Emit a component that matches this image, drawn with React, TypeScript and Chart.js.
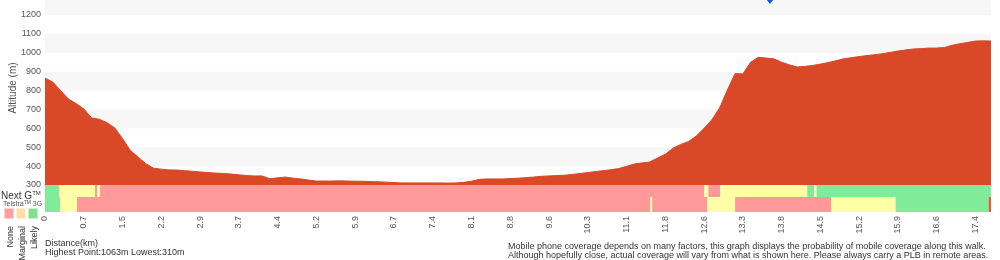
import React, { useEffect, useRef } from "react";
import { Chart, registerables } from "chart.js";

Chart.register(...registerables);

// ---------- data ----------
const tickLabels = [
  "0", "0.7", "1.5", "2.2", "2.9", "3.7", "4.4", "5.2", "5.9", "6.7", "7.4", "8.1",
  "8.8", "9.6", "10.3", "11.1", "11.8", "12.6", "13.3", "13.8", "14.5", "15.2", "15.9",
  "16.6", "17.4",
];
const POINTS_PER_TICK = 5;

// altitude (m) sampled along the walk, one value per profile point
const altitude = [
  866, 845, 800, 756, 731, 703, 655, 648, 630, 602,
  546, 483, 448, 413, 389, 384, 380, 379, 376, 373,
  369, 366, 363, 361, 358, 354, 350, 348, 348, 333,
  338, 342, 336, 332, 326, 321, 321, 321, 322, 321,
  320, 320, 318, 317, 315, 313, 311, 311, 311, 311,
  311, 311, 310, 311, 314, 320, 330, 332, 332, 332,
  334, 336, 339, 342, 346, 348, 350, 352, 356, 361,
  366, 371, 376, 381, 387, 399, 411, 417, 422, 443,
  463, 495, 515, 530, 560, 600, 645, 708, 803, 890,
  888, 950, 976, 972, 968, 950, 936, 925, 928, 933,
  940, 948, 958, 968, 974, 980, 985, 990, 995, 1002,
  1009, 1015, 1020, 1022, 1025, 1025, 1028, 1040, 1048, 1055,
  1062, 1063, 1062,
];
const pointLabels = altitude.map((_, i) => String(i));

const yTickValues = [300, 400, 500, 600, 700, 800, 900, 1000, 1100, 1200];
const shadedBands: [number, number][] = [
  [400, 500], [600, 700], [800, 900], [1000, 1100], [1200, 1300],
];

// coverage segments: [startPoint, endPoint, level]
type Seg = [number, number, string];
const nextGCoverage: Seg[] = [
  [0, 1.81, "likely"],
  [1.81, 6.45, "marginal"],
  [6.45, 6.75, "none"],
  [6.75, 7.1, "marginal"],
  [7.1, 85.03, "none"],
  [85.03, 85.55, "marginal"],
  [85.55, 87.1, "none"],
  [87.1, 98.3, "marginal"],
  [98.3, 99.2, "likely"],
  [99.2, 99.5, "marginal"],
  [99.5, 122, "likely"],
];
const telstra3GCoverage: Seg[] = [
  [0, 1.94, "likely"],
  [1.94, 4.13, "marginal"],
  [4.13, 78.06, "none"],
  [78.06, 78.3, "marginal"],
  [78.3, 85.4, "none"],
  [85.4, 89.0, "marginal"],
  [89.0, 101.4, "none"],
  [101.4, 109.7, "marginal"],
  [109.7, 121.7, "likely"],
  [121.7, 122, "unknown"],
];

const markerPoint = [93.5];
const markerAltitude = [1285];

const highestPoint = 1063;
const lowestPoint = 310;

// ---------- styles ----------
const FONT = '"Liberation Sans", Arial, Helvetica, sans-serif';
const ELEV_COLOR = "#d94827";
const coverageColors: Record<string, string> = {
  none: "#ff9999",
  marginal: "#ffffa6",
  likely: "#80eb9a",
  unknown: "#e0603a",
};

const backgroundPlugin = {
  id: "shadedBands",
  beforeDatasetsDraw(chart: any) {
    const { ctx, chartArea, scales } = chart;
    const y = scales.y;
    ctx.save();
    ctx.beginPath();
    ctx.rect(chartArea.left, chartArea.top, chartArea.right - chartArea.left, chartArea.bottom - chartArea.top);
    ctx.clip();
    ctx.fillStyle = "#f7f7f7";
    for (const [lo, hi] of shadedBands) {
      const t = y.getPixelForValue(hi);
      const b = y.getPixelForValue(lo);
      ctx.fillRect(chartArea.left, t, chartArea.right - chartArea.left, b - t);
    }
    ctx.restore();
  },
};

const coveragePlugin = {
  id: "coverage",
  afterDraw(chart: any) {
    const { ctx, chartArea, scales } = chart;
    const x = scales.x;
    const y = scales.y;
    const rows: [Seg[], number, number][] = [
      [nextGCoverage, 0, 12],
      [telstra3GCoverage, 12, 27],
    ];
    ctx.save();
    for (const [segs, t, b] of rows) {
      for (const [s, e, lvl] of segs) {
        const x0 = x.getPixelForValue(s);
        const x1 = x.getPixelForValue(e);
        ctx.fillStyle = coverageColors[lvl];
        ctx.fillRect(x0, chartArea.bottom + t, x1 - x0, b - t);
      }
    }
    // position marker
    ctx.fillStyle = "#0b5ed7";
    markerPoint.forEach((p, i) => {
      const mx = x.getPixelForValue(p);
      const my = y.getPixelForValue(markerAltitude[i]);
      ctx.beginPath();
      ctx.moveTo(mx, my - 5);
      ctx.lineTo(mx + 4, my);
      ctx.lineTo(mx, my + 5);
      ctx.lineTo(mx - 4, my);
      ctx.closePath();
      ctx.fill();
    });
    ctx.restore();
  },
};

const textColor = "#333";

export default function App() {
  const ref = useRef<HTMLCanvasElement | null>(null);

  useEffect(() => {
    if (!ref.current) return;
    const chart = new Chart(ref.current, {
      type: "line",
      data: {
        labels: pointLabels,
        datasets: [
          {
            data: altitude,
            fill: "start",
            backgroundColor: ELEV_COLOR,
            borderColor: ELEV_COLOR,
            borderWidth: 1,
            pointRadius: 0,
            tension: 0,
          },
        ],
      },
      options: {
        animation: false,
        responsive: false,
        layout: { padding: { left: 0, right: 9, top: 0, bottom: 0 } },
        plugins: { legend: { display: false }, tooltip: { enabled: false } },
        scales: {
          x: {
            type: "category",
            offset: false,
            grid: { display: false, drawTicks: false },
            border: { display: false },
            ticks: {
              autoSkip: false,
              minRotation: 90,
              maxRotation: 90,
              padding: 31,
              color: "#555",
              font: { family: FONT, size: 9 },
              callback: (_v: any, i: number) =>
                i % POINTS_PER_TICK === 0 ? tickLabels[i / POINTS_PER_TICK] ?? "" : "",
            },
            afterFit: (s: any) => {
              s.height = 75;
              s.paddingLeft = 0;
              s.paddingRight = 0;
            },
          },
          y: {
            min: 300,
            max: 1327,
            grid: { display: false, drawTicks: false },
            border: { display: false },
            ticks: {
              padding: 4,
              color: "#555",
              font: { family: FONT, size: 9 },
              callback: (v: any) => String(v),
            },
            afterBuildTicks: (s: any) => {
              s.ticks = yTickValues.map((v) => ({ value: v }));
            },
            afterFit: (s: any) => {
              s.width = 45;
              s.paddingTop = 0;
              s.paddingBottom = 0;
            },
            title: {
              display: true,
              text: "Altitude (m)",
              color: "#555",
              font: { family: FONT, size: 10 },
              padding: { top: 7, bottom: 0 },
            },
          },
        },
      },
      plugins: [backgroundPlugin, coveragePlugin],
    } as any);
    return () => chart.destroy();
  }, []);

  const abs = (o: React.CSSProperties): React.CSSProperties => ({
    position: "absolute",
    whiteSpace: "nowrap",
    fontFamily: FONT,
    ...o,
  });

  const legendSquares = [
    { left: 4, bg: "#ff9f9f", bd: "#ffd0d0", label: "None" },
    { left: 16, bg: "#ffe0a8", bd: "#fff0d4", label: "Marginal" },
    { left: 28, bg: "#7fe08f", bd: "#c4f2cc", label: "Likely" },
  ];

  return (
    <div style={{ position: "absolute", left: 0, top: 0, width: 1000, height: 260, overflow: "hidden", background: "#fff" }}>
      <canvas ref={ref} width={1000} height={269} style={{ position: "absolute", left: 0, top: -9, display: "block" }} />
      <div style={abs({ left: 1, top: 188, fontSize: 10, lineHeight: "10px", color: textColor })}>
        Next G<span style={{ fontSize: 6, verticalAlign: "4px" }}>TM</span>
      </div>
      <div style={abs({ left: 3, top: 199, fontSize: 7, lineHeight: "7px", color: "#555" })}>
        Telstra<span style={{ fontSize: 5, verticalAlign: "2px" }}>TM</span> 3G
      </div>
      {legendSquares.map((s) => (
        <React.Fragment key={s.label}>
          <div
            style={{
              position: "absolute",
              left: s.left,
              top: 208,
              width: 10,
              height: 11,
              boxSizing: "border-box",
              background: s.bg,
              border: `1px solid ${s.bd}`,
            }}
          />
          <div
            style={abs({
              left: s.left + 1,
              top: 226,
              width: 10,
              fontSize: 9,
              lineHeight: "10px",
              color: textColor,
              writingMode: "vertical-rl",
              transform: "rotate(180deg)",
            })}
          >
            {s.label}
          </div>
        </React.Fragment>
      ))}
      <div style={abs({ left: 45, top: 239, fontSize: 9, lineHeight: "9px", color: textColor })}>
        <div>Distance(km)</div>
        <div>
          Highest Point:{highestPoint}m Lowest:{lowestPoint}m
        </div>
      </div>
      <div style={abs({ left: 508, top: 242, fontSize: 9, lineHeight: "9px", color: textColor })}>
        <div>Mobile phone coverage depends on many factors, this graph displays the probability of mobile coverage along this walk.</div>
        <div>Although hopefully close, actual coverage will vary from what is shown here. Please always carry a PLB in remote areas.</div>
      </div>
    </div>
  );
}
